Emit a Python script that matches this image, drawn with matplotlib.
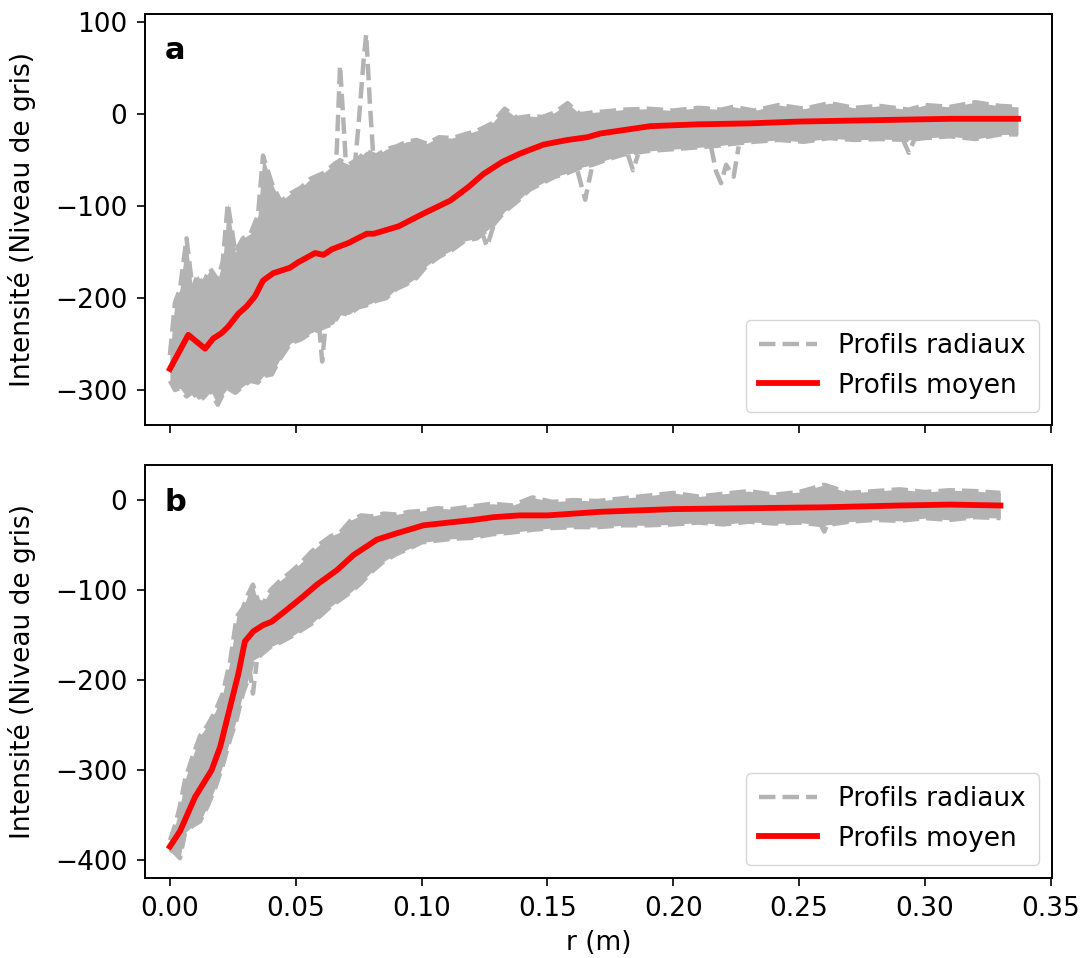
import numpy as np
import matplotlib
matplotlib.use("Agg")
import matplotlib.pyplot as plt
from matplotlib.lines import Line2D

# ---- panel a : envelope of the radial profiles
r_env_a = [0.000, 0.002, 0.004, 0.0066, 0.009, 0.011, 0.013, 0.016, 0.019, 0.021,
           0.023, 0.026, 0.029, 0.032, 0.035, 0.037, 0.0405, 0.044, 0.048, 0.052,
           0.056, 0.061, 0.065, 0.0676, 0.071, 0.075, 0.078, 0.082, 0.086, 0.090,
           0.094, 0.098, 0.102, 0.107, 0.112, 0.117, 0.122, 0.128, 0.133, 0.138,
           0.143, 0.148, 0.153, 0.158, 0.163, 0.168, 0.173, 0.180, 0.190, 0.200,
           0.210, 0.219, 0.224, 0.232, 0.242, 0.252, 0.262, 0.272, 0.282, 0.2936,
           0.300, 0.310, 0.320, 0.330, 0.337]
upper_a = [-262, -205, -190, -135, -190, -175, -185, -168, -180, -160,
           -97, -150, -135, -130, -110, -45, -75, -95, -86, -80,
           -70, -64, -55, -50, -55, -48, -40, -45, -38, -35,
           -30, -28, -32, -25, -26, -22, -18, -10, 6, -4,
           -2, -3, 2, 12, 0, 2, 3, 5, 6, 4,
           7, 5, 8, 4, 10, 6, 12, 7, 9, 5,
           10, 8, 13, 9, 8]
lower_a = [-290, -300, -298, -307, -302, -310, -309, -300, -316, -305,
           -298, -303, -296, -290, -292, -285, -283, -265, -249, -245,
           -238, -232, -228, -216, -218, -210, -208, -203, -200, -190,
           -185, -178, -165, -155, -148, -138, -135, -122, -106, -95,
           -82, -75, -68, -64, -58, -55, -50, -44, -40, -38,
           -36, -34, -32, -30, -28, -30, -26, -28, -27, -28,
           -26, -24, -27, -22, -22]

# a few outlier profiles (spikes and dips)
outliers_a = [
    ([0.0640, 0.0663, 0.0676, 0.0690, 0.0703], [-95, -40, 53, -10, -70]),
    ([0.0725, 0.0750, 0.0770, 0.0780, 0.0795, 0.0815], [-85, -10, 60, 87, 10, -75]),
    ([0.0585, 0.0605, 0.0625], [-205, -269, -210]),
    ([0.1235, 0.1260, 0.1285], [-125, -144, -122]),
    ([0.1620, 0.1650, 0.1675], [-62, -93, -60]),
    ([0.1820, 0.1840, 0.1860], [-44, -61, -44]),
    ([0.2150, 0.2170, 0.2190, 0.2210, 0.2240, 0.2260], [-35, -62, -75, -55, -68, -35]),
    ([0.2910, 0.2936, 0.2960], [-26, -42, -26]),
]

# mean profile a
r_mean_a = [0, 0.0073, 0.014, 0.0172, 0.0206, 0.0232, 0.0272, 0.0305, 0.0338, 0.037,
            0.041, 0.0477, 0.051, 0.0577, 0.061, 0.0643, 0.071, 0.0782, 0.081, 0.0908,
            0.1008, 0.1114, 0.1187, 0.1246, 0.132, 0.139, 0.1485, 0.158, 0.166, 0.171,
            0.191, 0.21, 0.23, 0.25, 0.27, 0.29, 0.31, 0.337]
mean_a = [-277, -240, -255, -244, -238, -231, -217, -209, -198, -181,
          -173, -167, -161, -151, -153, -147, -140, -130, -130, -122,
          -108, -94, -79, -65, -52, -43, -33, -28, -25, -21,
          -13, -11, -10, -8, -7, -6, -5, -5]

# ---- panel b
r_env_b = [0.000, 0.002, 0.004, 0.006, 0.009, 0.012, 0.015, 0.018, 0.021, 0.024,
           0.0265, 0.029, 0.031, 0.033, 0.035, 0.037, 0.040, 0.044, 0.048, 0.052,
           0.056, 0.060, 0.064, 0.068, 0.072, 0.076, 0.080, 0.085, 0.090, 0.095,
           0.100, 0.106, 0.112, 0.120, 0.128, 0.136, 0.144, 0.152, 0.160, 0.170,
           0.180, 0.190, 0.200, 0.210, 0.220, 0.230, 0.240, 0.250, 0.260, 0.270,
           0.280, 0.290, 0.300, 0.310, 0.320, 0.330]
upper_b = [-378, -362, -340, -311, -285, -262, -250, -235, -215, -178,
           -130, -120, -105, -94, -112, -115, -100, -89, -80, -70,
           -58, -48, -40, -35, -22, -17, -18, -15, -16, -13,
           -12, -9, -10, -7, -4, -6, 3, -2, 0, -1,
           2, 5, 8, 4, 7, 10, 6, 9, 17, 8,
           10, 12, 9, 11, 10, 8]
lower_b = [-388, -392, -398, -370, -362, -357, -340, -320, -295, -265,
           -244, -215, -200, -178, -175, -170, -163, -158, -152, -145,
           -138, -128, -118, -110, -102, -92, -80, -68, -60, -54,
           -47, -45, -43, -42, -38, -36, -33, -31, -30, -30,
           -28, -28, -27, -25, -27, -24, -26, -25, -28, -24,
           -22, -23, -20, -22, -19, -20]
outliers_b = [
    ([0.0315, 0.0330, 0.0345], [-185, -215, -180]),
    ([0.2580, 0.2600, 0.2620], [-24, -35, -22]),
]

r_mean_b = [0, 0.004, 0.010, 0.0166, 0.020, 0.0239, 0.0272, 0.0298, 0.0331, 0.037,
            0.0405, 0.0464, 0.053, 0.0584, 0.0663, 0.073, 0.0822, 0.090, 0.1008, 0.1074,
            0.1207, 0.1286, 0.139, 0.150, 0.171, 0.20, 0.23, 0.26, 0.29, 0.31, 0.33]
mean_b = [-385, -368, -330, -300, -274, -230, -193, -157, -146, -139,
          -135, -122, -107, -94, -78, -61, -44, -37, -28, -26,
          -22, -19, -17, -17, -13, -10, -9, -8, -6, -5, -6]

gray = "#b3b3b3"
plt.rcParams["font.size"] = 19
plt.rcParams["axes.linewidth"] = 1.4
plt.rcParams["xtick.major.size"] = 6
plt.rcParams["ytick.major.size"] = 6
plt.rcParams["xtick.major.width"] = 1.2
plt.rcParams["ytick.major.width"] = 1.2
plt.rcParams["xtick.major.pad"] = 6.7
plt.rcParams["ytick.major.pad"] = 6.7

fig = plt.figure(figsize=(10.86, 9.58), dpi=100)
ax1 = fig.add_axes([0.1335, 0.5564, 0.8352, 0.429])
ax2 = fig.add_axes([0.1335, 0.0835, 0.8352, 0.4311], sharex=ax1)


def draw_panel(ax, r_env, up, lo, outliers, r_m, m, letter):
    ax.fill_between(r_env, lo, up, color=gray, lw=0)
    ax.plot(r_env, up, "--", color=gray, lw=3.2)
    ax.plot(r_env, lo, "--", color=gray, lw=3.2)
    for rr, vv in outliers:
        ax.plot(rr, vv, "--", color=gray, lw=3.2)
    ax.plot(r_m, m, color="red", lw=4.2)
    ax.text(0.022, 0.91, letter, transform=ax.transAxes, fontsize=22,
            fontweight="bold", va="center")
    ax.set_ylabel("Intensité (Niveau de gris)", labelpad=14)
    handles = [Line2D([], [], ls="--", color=gray, lw=3.2),
               Line2D([], [], color="red", lw=4.2)]
    ax.legend(handles, ["Profils radiaux", "Profils moyen"], loc="lower right",
              borderpad=0.5, handlelength=2.2)


draw_panel(ax1, r_env_a, upper_a, lower_a, outliers_a, r_mean_a, mean_a, "a")
draw_panel(ax2, r_env_b, upper_b, lower_b, outliers_b, r_mean_b, mean_b, "b")

ax1.set_xlim(-0.0099, 0.3505)
ax1.set_ylim(-338, 109)
ax2.set_ylim(-420, 39)
ax1.set_yticks([-300, -200, -100, 0, 100])
ax2.set_yticks([-400, -300, -200, -100, 0])
ax1.tick_params(labelbottom=False)
ax2.set_xlabel("r (m)", labelpad=6)

fig.savefig("out.png", dpi=100)
